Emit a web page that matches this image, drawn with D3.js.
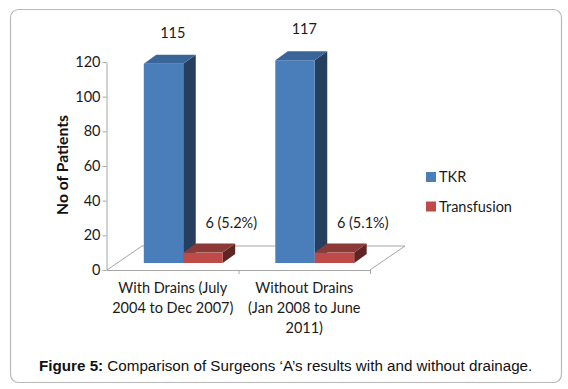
<!DOCTYPE html>
<html>
<head>
<meta charset="utf-8">
<script src="https://cdn.jsdelivr.net/npm/d3@7/dist/d3.min.js"></script>
<style>
  html, body { margin: 0; padding: 0; background: #fff; }
  svg { display: block; }
</style>
</head>
<body>
<svg id="chart" width="568" height="389"></svg>
<script>
// ---- Data ----
const categories = ["With Drains (July 2004 to Dec 2007)", "Without Drains (Jan 2008 to June 2011)"];
const categoryLines = [["With Drains (July", "2004 to Dec 2007)"], ["Without Drains", "(Jan 2008 to June", "2011)"]];
const seriesNames = ["TKR", "Transfusion"];
const tkrValues = [115, 117];
const transfusionValues = [6, 6];
const tkrLabels = ["115", "117"];
const transfusionLabels = ["6 (5.2%)", "6 (5.1%)"];
const yTicks = [0, 20, 40, 60, 80, 100, 120];

// ---- Styles ----
const chartFont = "Lato, 'Open Sans', sans-serif";
const colors = {
  TKR: { front: "#4A7EBB", top: "#3A6598", side: "#263F5F" },
  Transfusion: { front: "#BE4B48", top: "#8B3A38", side: "#5E2523" }
};

const svg = d3.select("#chart");

// Outer frame
svg.append("rect")
  .attr("x", 10.5).attr("y", 9.5).attr("width", 551).attr("height", 373)
  .attr("rx", 8).attr("ry", 8)
  .attr("fill", "#fff").attr("stroke", "#b8b8b8").attr("stroke-width", 1.2);

// Scales
const x = d3.scaleBand().domain(categories).range([107, 370]).paddingInner(0).paddingOuter(0);
const y = d3.scaleLinear().domain([0, 120]).range([270, 62]);

// 3D parameters
const floorDepth = { dx: 35, dy: -24 };
const barFront = { dx: 10.5, dy: -7 };
const barDepth = { dx: 12.5, dy: -9 };
const barW = x.bandwidth() * 0.3;

// Floor
const x0 = x.range()[0], x1 = x.range()[1], yb = y(0);
const floor = svg.append("g").attr("stroke", "#a6a6a6").attr("stroke-width", 1).attr("fill", "none");
floor.append("path").attr("d",
  `M${x0},${yb} L${x0 + floorDepth.dx},${yb + floorDepth.dy} L${x1 + floorDepth.dx},${yb + floorDepth.dy} L${x1},${yb}`);
floor.append("line").attr("x1", x0).attr("x2", x1).attr("y1", yb + 0.5).attr("y2", yb + 0.5);
// category separator ticks
[...categories.map(c => x(c)), x1].forEach((cx, i) => {
  if (i === 0) return;
  floor.append("line").attr("x1", cx + 0.5).attr("x2", cx + 0.5).attr("y1", yb).attr("y2", yb + 4);
});

// Y axis
const yAxis = svg.append("g")
  .attr("transform", `translate(${x0 - 0.5},0)`)
  .call(d3.axisLeft(y).tickValues(yTicks).tickSize(4).tickSizeOuter(0));
yAxis.select(".domain").attr("stroke", "#a6a6a6");
yAxis.selectAll(".tick line").attr("stroke", "#a6a6a6");
yAxis.selectAll(".tick text")
  .attr("font-family", chartFont).attr("font-size", 14.5).attr("fill", "#1a1a1a").attr("x", -6);

// Y title
svg.append("text")
  .attr("transform", "translate(62,165) rotate(-90)")
  .attr("text-anchor", "middle").attr("dominant-baseline", "central")
  .attr("font-family", chartFont).attr("font-weight", "bold").attr("font-size", 15.7)
  .attr("fill", "#111")
  .text("No of Patients");

// Bars
function drawBar(g, left, value, col) {
  const fx = left + barFront.dx;
  const top = y(value) + barFront.dy;
  const bottom = y(0) + barFront.dy;
  const { dx, dy } = barDepth;
  // side
  g.append("path").attr("fill", col.side)
    .attr("d", `M${fx + barW},${top} L${fx + barW + dx},${top + dy} L${fx + barW + dx},${bottom + dy} L${fx + barW},${bottom} Z`);
  // top
  g.append("path").attr("fill", col.top)
    .attr("d", `M${fx},${top} L${fx + dx},${top + dy} L${fx + barW + dx},${top + dy} L${fx + barW},${top} Z`);
  // front
  g.append("rect").attr("fill", col.front)
    .attr("x", fx).attr("y", top).attr("width", barW).attr("height", bottom - top);
}

const bars = svg.append("g");
categories.forEach((c, i) => {
  const center = x(c) + x.bandwidth() / 2;
  drawBar(bars, center - barW, tkrValues[i], colors.TKR);
  drawBar(bars, center, transfusionValues[i], colors.Transfusion);
});

// Value labels
const labels = svg.append("g").attr("font-family", chartFont).attr("font-size", 14.5).attr("fill", "#1a1a1a").attr("text-anchor", "middle");
categories.forEach((c, i) => {
  const center = x(c) + x.bandwidth() / 2;
  labels.append("text").attr("x", center).attr("y", y(tkrValues[i]) - 33).text(tkrLabels[i]);
  labels.append("text").attr("x", center + 58.5).attr("y", y(transfusionValues[i]) - 32).text(transfusionLabels[i]);
});

// Category labels
const catG = svg.append("g").attr("font-family", chartFont).attr("font-size", 14.5).attr("fill", "#1a1a1a").attr("text-anchor", "middle");
categories.forEach((c, i) => {
  const center = x(c) + x.bandwidth() / 2;
  categoryLines[i].forEach((line, j) => {
    catG.append("text").attr("x", center).attr("y", 293 + j * 20).text(line);
  });
});

// Legend
const legend = svg.append("g").attr("font-family", chartFont).attr("font-size", 14.5).attr("fill", "#1a1a1a");
seriesNames.forEach((s, i) => {
  const ly = 172 + i * 29.5;
  legend.append("rect").attr("x", 426).attr("y", ly).attr("width", 10).attr("height", 10).attr("fill", colors[s].front);
  legend.append("text").attr("x", 439).attr("y", ly + 10).text(s);
});

// Caption
const cap = svg.append("text")
  .attr("x", 39).attr("y", 370.5)
  .attr("font-family", "'Liberation Sans', Arial, sans-serif").attr("font-size", 15.2).attr("fill", "#111");
cap.append("tspan").attr("font-weight", "bold").text("Figure 5:");
cap.append("tspan").text(" Comparison of Surgeons \u2018A\u2019s results with and without drainage.");
</script>
</body>
</html>
